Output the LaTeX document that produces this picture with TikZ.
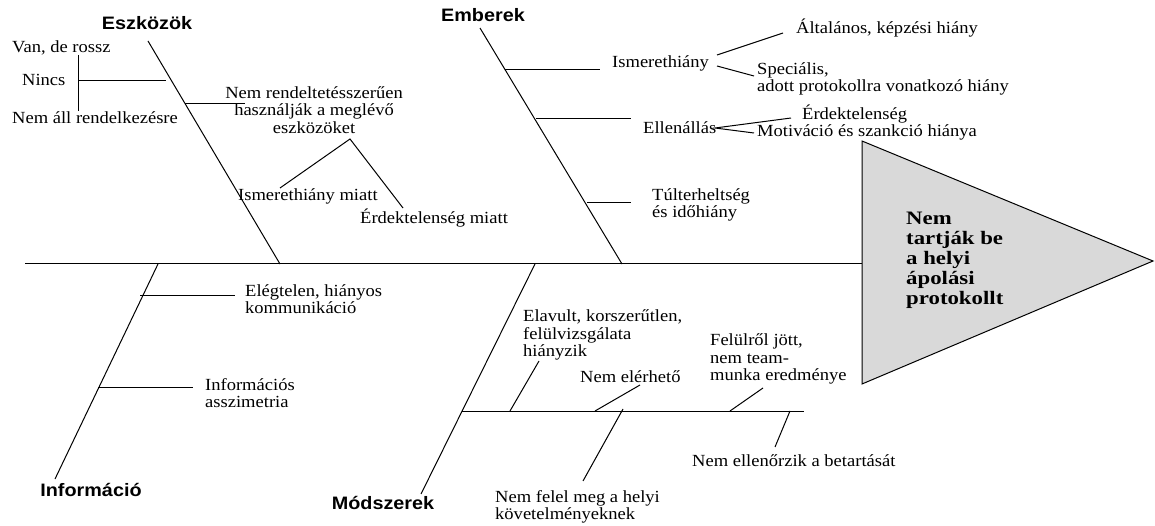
\documentclass[tikz,border=0pt]{standalone}
\usepackage{fontspec}
\setmainfont{Liberation Serif}[FakeStretch=1.09]
\newfontfamily\hdfont{Liberation Sans}[FakeStretch=1.1]
\newfontfamily\ttlfont{Liberation Serif}[FakeStretch=1.2]
\begin{document}
\begin{tikzpicture}[x=1pt,y=-1pt,
  bone/.style={line width=1pt, draw=black},
  lbl/.style={inner sep=0pt, font=\fontsize{17}{17.5}\selectfont, align=left, anchor=west},
  clbl/.style={inner sep=0pt, font=\fontsize{17}{17.5}\selectfont, align=center},
  head/.style={inner sep=0pt, font=\hdfont\bfseries\fontsize{18}{18}\selectfont},
  ttl/.style={inner sep=0pt, font=\ttlfont\bfseries\fontsize{19}{20}\selectfont, align=left, anchor=west},
  effect/.style={draw=black, line width=1pt, fill=black!15}]
\useasboundingbox (0,0) rectangle (1155,526);

% effect triangle
\coordinate (t1) at (862,141);
\coordinate (t2) at (1153,261);
\coordinate (t3) at (862,384);
\path[effect] (t1) -- (t2) -- (t3) -- cycle;
\node[ttl] (effect) at (906,260) {Nem\\tartják be\\a helyi\\ápolási\\protokollt};

% spine
\coordinate (s0) at (25,264);
\coordinate (s1) at (862,264);
\draw[bone] (s0) -- (s1);

% category labels
\node[head] (cEsz) at (147,23) {Eszközök};
\node[head] (cEmb) at (483,15) {Emberek};
\node[head] (cInf) at (91,490) {Információ};
\node[head] (cMod) at (383,503) {Módszerek};

% main bones
\coordinate (e0) at (148,41);  \coordinate (e1) at (280,264);
\coordinate (m0) at (480,28);  \coordinate (m1) at (622,264);
\coordinate (i0) at (158,264); \coordinate (i1) at (55,479);
\coordinate (d0) at (535,264); \coordinate (d1) at (421,494);
\draw[bone] (e0) -- (e1);
\draw[bone] (m0) -- (m1);
\draw[bone] (i0) -- (i1);
\draw[bone] (d0) -- (d1);

% ---- Eszközök
\node[lbl] (vdr) at (12,48) {Van, de rossz};
\node[lbl] (nincs) at (22,80) {Nincs};
\node[lbl] (nar) at (12,118) {Nem áll rendelkezésre};
\coordinate (n0) at (78,81); \coordinate (n1) at (166,81);
\coordinate (v0) at (78,55); \coordinate (v1) at (78,111);
\draw[bone] (n0) -- (n1);
\draw[bone] (v0) -- (v1);

\coordinate (r0) at (185,104); \coordinate (r1) at (245,104);
\draw[bone] (r0) -- (r1);
\node[clbl] (nrh) at (314,110) {Nem rendeltetésszerűen\\használják a meglévő\\eszközöket};
\coordinate (rt) at (350,139);
\coordinate (ra) at (280,188);
\coordinate (rb) at (403,208);
\draw[bone] (ra) -- (rt) -- (rb);
\node[lbl] (imi) at (238,196) {Ismerethiány miatt};
\node[lbl] (emi) at (360,218) {Érdektelenség miatt};

% ---- Emberek
\coordinate (h0) at (505,70); \coordinate (h1) at (600,70);
\draw[bone] (h0) -- (h1);
\node[lbl] (ism) at (612,63) {Ismerethiány};
\coordinate (ha0) at (717,55); \coordinate (ha1) at (783,33);
\coordinate (hb0) at (717,66); \coordinate (hb1) at (754,76);
\draw[bone] (ha0) -- (ha1);
\draw[bone] (hb0) -- (hb1);
\node[lbl] (alt) at (796,28) {Általános, képzési hiány};
\node[lbl] (spec) at (757,79) {Speciális,\\adott protokollra vonatkozó hiány};

\coordinate (l0) at (536,119); \coordinate (l1) at (631,119);
\draw[bone] (l0) -- (l1);
\node[lbl] (ell) at (643,128) {Ellenállás};
\coordinate (lc) at (715,128);
\coordinate (la) at (791,118);
\coordinate (lb) at (754,133);
\draw[bone] (la) -- (lc) -- (lb);
\node[lbl] (erd) at (802,114) {Érdektelenség};
\node[lbl] (mot) at (757,132) {Motiváció és szankció hiánya};

\coordinate (u0) at (587,203); \coordinate (u1) at (631,203);
\draw[bone] (u0) -- (u1);
\node[lbl] (tul) at (652,205) {Túlterheltség\\és időhiány};

% ---- Információ
\coordinate (k0) at (140,295); \coordinate (k1) at (235,295);
\draw[bone] (k0) -- (k1);
\node[lbl] (kom) at (245,299) {Elégtelen, hiányos\\kommunikáció};
\coordinate (a0) at (98,387); \coordinate (a1) at (193,387);
\draw[bone] (a0) -- (a1);
\node[lbl] (asz) at (205,393) {Információs\\asszimetria};

% ---- Módszerek
\coordinate (p0) at (462,411); \coordinate (p1) at (804,411);
\draw[bone] (p0) -- (p1);
\coordinate (q0) at (510,411); \coordinate (q1) at (539,361);
\draw[bone] (q0) -- (q1);
\node[lbl] (ela) at (523,335) {Elavult, korszerűtlen,\\felülvizsgálata\\hiányzik};
\coordinate (w0) at (595,411); \coordinate (w1) at (640,385);
\draw[bone] (w0) -- (w1);
\node[lbl] (nee) at (580,377) {Nem elérhető};
\coordinate (f0) at (623,409); \coordinate (f1) at (583,481);
\draw[bone] (f0) -- (f1);
\node[lbl] (nfm) at (495,507) {Nem felel meg a helyi\\követelményeknek};
\coordinate (g0) at (730,411); \coordinate (g1) at (763,388);
\draw[bone] (g0) -- (g1);
\node[lbl] (fel) at (710,359) {Felülről jött,\\nem team-\\munka eredménye};
\coordinate (c0) at (790,411); \coordinate (c1) at (775,447);
\draw[bone] (c0) -- (c1);
\node[lbl] (nel) at (692,461) {Nem ellenőrzik a betartását};
\end{tikzpicture}
\end{document}
